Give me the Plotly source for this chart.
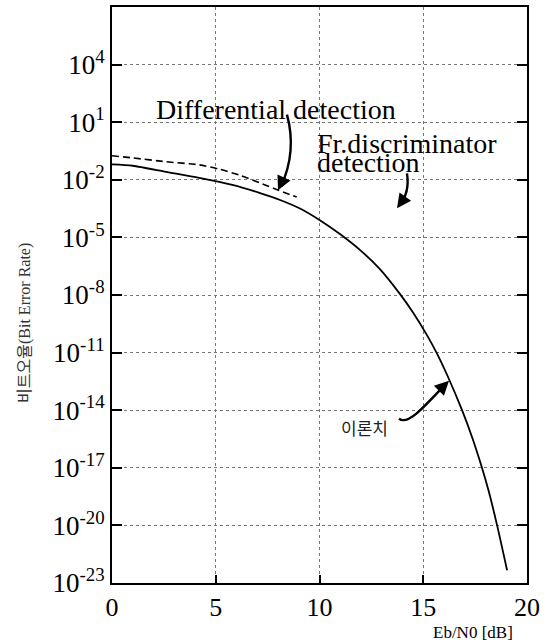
import plotly.graph_objects as go

# ---- data ----
ebn0_theory = [0, 1, 2.6, 4.2, 5.8, 7.1, 8.1, 9.06, 10.0, 11.0, 12.0, 12.9, 13.9,
               14.5, 15.2, 15.7, 16.2, 16.87, 17.35, 17.83, 18.15, 18.56, 19.04]
ber_theory = [6.3e-2, 5.4e-2, 2.6e-2, 1.26e-2, 5.4e-3, 2.1e-3, 8.9e-4, 3.2e-4, 8.1e-5,
              1.45e-5, 2.0e-6, 2.3e-7, 1.05e-8, 1.26e-9, 7.4e-11, 7.4e-12, 5.2e-13,
              1.0e-14, 4.0e-16, 1.0e-17, 6.3e-19, 1.0e-20, 4.6e-23]

ebn0_diff = [0, 1.0, 2.6, 4.2, 5.2, 6.2, 7.1, 7.9, 8.9]
ber_diff = [0.178, 0.138, 0.087, 0.060, 0.035, 0.0166, 7.1e-3, 3.2e-3, 1.26e-3]

x_ticks = [0, 5, 10, 15, 20]
y_exponents = [4, 1, -2, -5, -8, -11, -14, -17, -20, -23]

# ---- layout geometry ----
W, H = 555, 644
ML, MR, MT, MB = 112, 28, 5, 61
PW, PH = W - ML - MR, H - MT - MB


def px(x):
    return (x - ML) / PW


def py(y):
    return (H - MB - y) / PH


SERIF = "Liberation Serif"

fig = go.Figure()
fig.add_trace(go.Scatter(x=ebn0_diff, y=ber_diff, mode="lines",
                         line=dict(color="black", width=1.6, dash="7px,4px", shape="spline", smoothing=0.7),
                         showlegend=False, hoverinfo="skip"))
fig.add_trace(go.Scatter(x=ebn0_theory, y=ber_theory, mode="lines",
                         line=dict(color="black", width=1.8, shape="spline", smoothing=0.7),
                         showlegend=False, hoverinfo="skip"))

fig.update_xaxes(range=[0, 20], tickvals=x_ticks, ticktext=[str(v) for v in x_ticks],
                 showgrid=True, gridcolor="#777", griddash="dot", gridwidth=1,
                 zeroline=False, showline=True, linecolor="black", linewidth=2, mirror=True,
                 ticks="inside", ticklen=8, tickwidth=1.5, tickcolor="black",
                 tickfont=dict(family=SERIF, size=26, color="black"))
fig.update_yaxes(type="log", range=[-23, 7],
                 tickvals=[10.0 ** e for e in y_exponents],
                 ticktext=["10<sup>%d</sup>" % e for e in y_exponents],
                 showgrid=True, gridcolor="#777", griddash="dot", gridwidth=1,
                 zeroline=False, showline=True, linecolor="black", linewidth=2, mirror="ticks",
                 ticks="inside", ticklen=10, tickwidth=1.5, tickcolor="black",
                 tickfont=dict(family=SERIF, size=27, color="black"))

annotations = [
    dict(text="Differential detection", x=px(154), y=py(108), xanchor="left", yanchor="middle",
         font=dict(family=SERIF, size=28, color="black")),
    dict(text="Fr.discriminator", x=px(315), y=py(142), xanchor="left", yanchor="middle",
         font=dict(family=SERIF, size=28, color="black")),
    dict(text="detection", x=px(315), y=py(161), xanchor="left", yanchor="middle",
         font=dict(family=SERIF, size=28, color="black")),
    dict(text="이론치", x=px(364), y=py(427), xanchor="center", yanchor="middle",
         font=dict(family="Noto Sans CJK KR", size=17, color="#222")),
    dict(text="Eb/N0 [dB]", x=px(473), y=py(633), xanchor="center", yanchor="middle",
         font=dict(family=SERIF, size=17, color="black")),
    dict(text="비트오율(Bit Error Rate)", x=px(25), y=py(322), xanchor="center", yanchor="middle",
         textangle=-90, font=dict(family=SERIF + ", Noto Sans CJK KR", size=16, color="#333")),
]
for a in annotations:
    a.update(xref="paper", yref="paper", showarrow=False)

# arrowheads
heads = [((278, 189), 6, -13), ((397, 207), 5, -7), ((449, 380), -9, 9)]
for (hx, hy), ax, ay in heads:
    annotations.append(dict(text="", x=px(hx), y=py(hy), xref="paper", yref="paper",
                            showarrow=True, arrowhead=2, arrowsize=1.3, arrowwidth=2.2,
                            arrowcolor="black", ax=ax, ay=ay))


def path(points_cmd):
    out = []
    for tok in points_cmd:
        if isinstance(tok, str):
            out.append(tok)
        else:
            out.append("%.5f,%.5f" % (px(tok[0]), py(tok[1])))
    return " ".join(out)


shapes = [
    dict(type="path", path=path(["M", (287, 113), "Q", (297, 150), (281, 185)])),
    dict(type="path", path=path(["M", (407, 172), "Q", (410, 192), (399, 204)])),
    dict(type="path", path=path(["M", (399, 418), "C", (407, 425), (422, 409), (445, 384)])),
]
for s in shapes:
    s.update(xref="paper", yref="paper", line=dict(color="black", width=2.4))

fig.update_layout(width=W, height=H, autosize=False,
                  margin=dict(l=ML, r=MR, t=MT, b=MB),
                  paper_bgcolor="white", plot_bgcolor="white",
                  annotations=annotations, shapes=shapes, showlegend=False)

fig.write_html("out.html")
